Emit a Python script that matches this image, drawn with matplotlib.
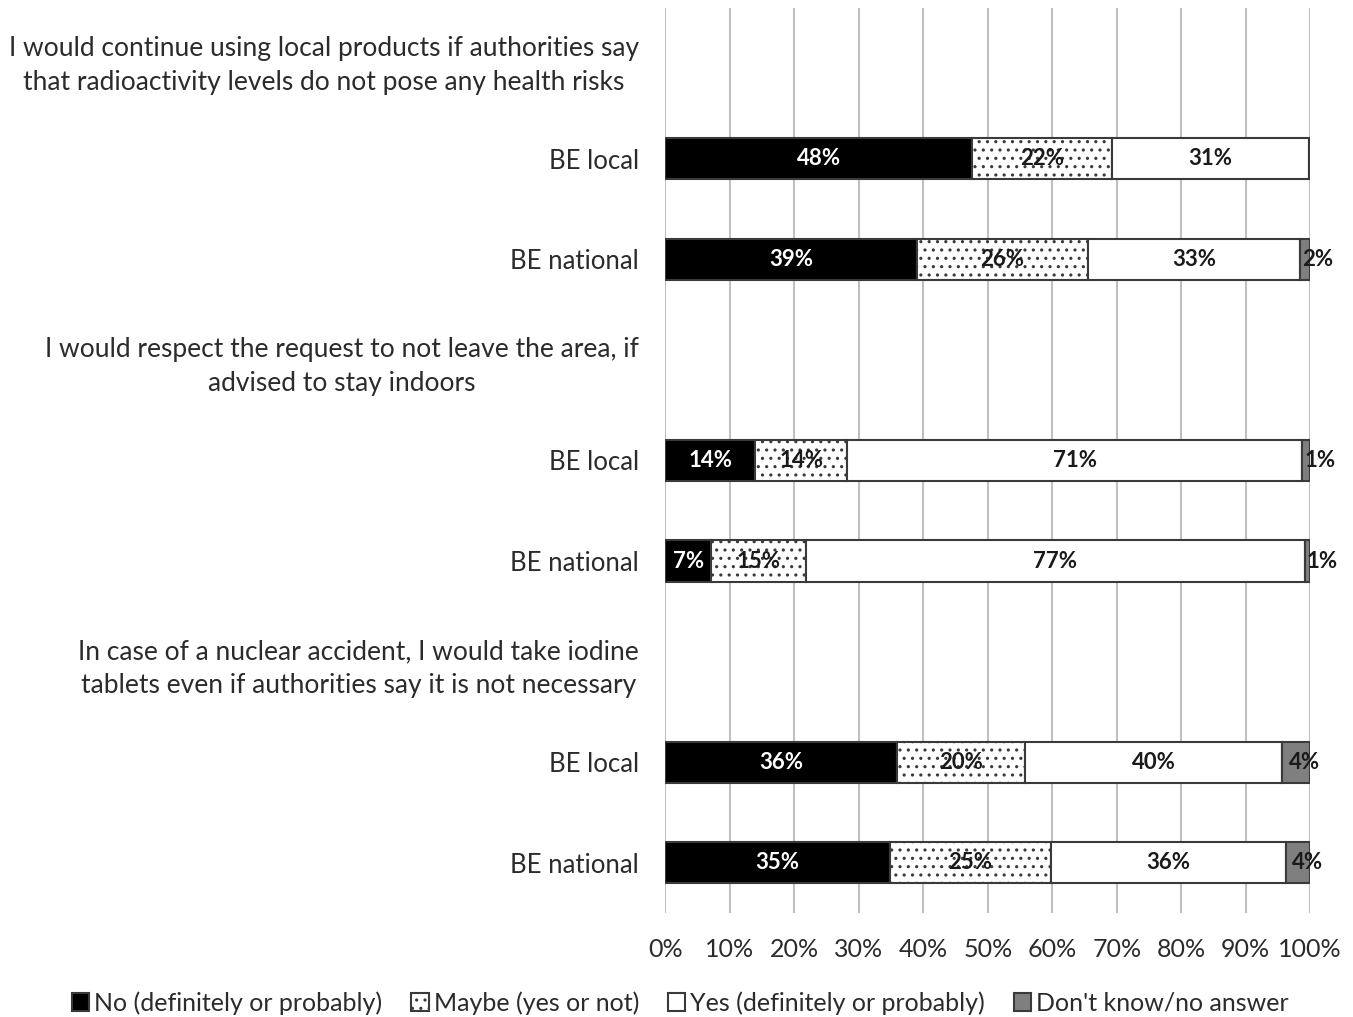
import matplotlib.pyplot as plt
import numpy as np

plt.rcParams['font.family'] = ['Lato', 'DejaVu Sans']
plt.rcParams['hatch.linewidth'] = 1.1
plt.rcParams['hatch.color'] = '#111111'

# rows from top to bottom: question header, then BE local / BE national
row_labels = [
    "I would continue using local products if authorities say\nthat radioactivity levels do not pose any health risks",
    "BE local",
    "BE national",
    "I would respect the request to not leave the area, if\nadvised to stay indoors",
    "BE local",
    "BE national",
    "In case of a nuclear accident, I would take iodine\ntablets even if authorities say it is not necessary",
    "BE local",
    "BE national",
]
bar_rows = [1, 2, 4, 5, 7, 8]

no_answer = [47.6, 39.1, 13.9, 7.1, 35.9, 34.8]
maybe = [21.6, 26.4, 14.3, 14.7, 19.9, 25.0]
yes_answer = [30.6, 32.9, 70.6, 77.4, 39.9, 36.4]
dont_know = [0.0, 1.6, 1.2, 0.8, 4.3, 3.8]

series_names = ["No (definitely or probably)", "Maybe (yes or not)",
                "Yes (definitely or probably)", "Don't know/no answer"]
fills = ['black', 'white', 'white', '#7f7f7f']
hatches = [None, '..', None, None]
text_colors = ['white', '#1a1a1a', '#1a1a1a', '#1a1a1a']

fig = plt.figure(figsize=(13.53, 10.17), dpi=100)
ax = fig.add_axes([0.4918, 0.1023, 0.4765, 0.8899])

left = np.zeros(len(bar_rows))
handles = []
for i, (vals, name, fc, h, tc) in enumerate(zip(
        [no_answer, maybe, yes_answer, dont_know],
        series_names, fills, hatches, text_colors)):
    vals = np.array(vals)
    bars = ax.barh(bar_rows, vals, left=left, height=0.41, color=fc,
                   hatch=h, edgecolor='#3a3a3a', linewidth=1.5, zorder=3,
                   label=name)
    handles.append(bars)
    for y, l, v in zip(bar_rows, left, vals):
        if v < 0.5:
            continue
        if i == 3:
            # small segment: label starts inside and runs past the end
            ax.text(l + v * 0.25, y, '%.0f%%' % v, ha='left', va='center',
                    fontsize=16, fontweight='bold', color=tc, zorder=4,
                    clip_on=False)
        else:
            ax.text(l + v / 2, y, '%.0f%%' % v, ha='center', va='center',
                    fontsize=16, fontweight='bold', color=tc, zorder=4)
    left += vals

ax.set_xlim(0, 100)
ax.set_ylim(8.5, -0.5)
ax.set_xticks(np.arange(0, 101, 10))
ax.set_xticklabels(['%d%%' % t for t in range(0, 101, 10)])
ax.set_yticks(range(len(row_labels)))
ax.set_yticklabels(row_labels, multialignment='center', linespacing=1.45)
ax.tick_params(axis='both', length=0, colors='#2b2b2b')
ax.tick_params(axis='y', pad=19, labelsize=18.5)
ax.tick_params(axis='x', pad=18, labelsize=18)
# header rows use a slightly larger size
for k in (0, 3, 6):
    ax.get_yticklabels()[k].set_fontsize(19)
ax.grid(axis='x', color='#c0c0c0', linewidth=1.5, zorder=0)
for s in ax.spines.values():
    s.set_visible(False)

fig.legend(handles=handles, loc='center', bbox_to_anchor=(0.503, 0.014),
           ncol=4, frameon=False, fontsize=18, handlelength=0.7,
           handleheight=0.7, handletextpad=0.2, columnspacing=1.15,
           labelcolor='#2b2b2b')

fig.savefig('out.png', dpi=100)
